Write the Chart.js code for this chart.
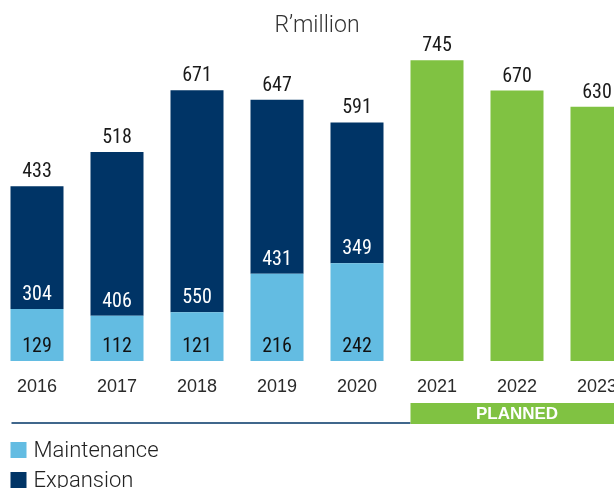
<!DOCTYPE html>
<html>
<head>
<meta charset="utf-8">
<script src="https://cdn.jsdelivr.net/npm/chart.js@4.4.0/dist/chart.umd.min.js"></script>
<style>
  html, body { margin: 0; padding: 0; overflow: hidden; background: #fff; width: 614px; height: 488px; }
  #wrap { position: absolute; left: -3px; top: 0; width: 640px; height: 488px; }
</style>
</head>
<body>
<div id="wrap"><canvas id="chart"></canvas></div>
<script>
const years = ['2016', '2017', '2018', '2019', '2020', '2021', '2022', '2023'];
const maintenance = [129, 112, 121, 216, 242, null, null, null];
const expansion = [304, 406, 550, 431, 349, null, null, null];
const planned = [null, null, null, null, null, 745, 670, 630];
const totals = [433, 518, 671, 647, 591, 745, 670, 630];

const NAVY = '#003466';
const LIGHT = '#63bce2';
const GREEN = '#80c242';
const numFont = '20px "Liberation Sans Narrow", "Arial Narrow", "Roboto Condensed", sans-serif';

const overlay = {
  id: 'overlay',
  afterDraw(chart) {
    const ctx = chart.ctx;
    const area = chart.chartArea;
    const x = chart.scales.x;
    const mMeta = chart.getDatasetMeta(0);
    const eMeta = chart.getDatasetMeta(1);
    const pMeta = chart.getDatasetMeta(2);
    ctx.save();

    // title
    ctx.fillStyle = '#333';
    ctx.font = '300 23px Roboto, "Liberation Sans", sans-serif';
    ctx.textAlign = 'center';
    ctx.textBaseline = 'alphabetic';
    ctx.fillText('R\u2019million', (area.left + area.right) / 2, 32);

    // value labels
    ctx.font = numFont;
    ctx.textBaseline = 'middle';
    years.forEach((y, i) => {
      const top = i < 5 ? eMeta.data[i] : pMeta.data[i];
      ctx.fillStyle = '#1a1a1a';
      ctx.fillText(String(totals[i]), top.x, top.y - 14);
      if (i < 5) {
        const m = mMeta.data[i];
        ctx.fillStyle = '#111';
        ctx.fillText(String(maintenance[i]), m.x, m.base - 14);
        ctx.fillStyle = '#fff';
        ctx.fillText(String(expansion[i]), m.x, m.y - 14);
      }
    });

    // category labels
    ctx.fillStyle = '#2a2a2a';
    ctx.font = '18px "Liberation Sans", Arial, sans-serif';
    ctx.textBaseline = 'alphabetic';
    years.forEach((y, i) => {
      ctx.fillText(y, x.getPixelForValue(i), 392);
    });

    // rule and planned banner
    const first = mMeta.data[0];
    const p0 = pMeta.data[5];
    const left0 = first.x - first.width / 2;
    const leftP = p0.x - p0.width / 2;
    ctx.strokeStyle = NAVY;
    ctx.lineWidth = 1.5;
    ctx.beginPath();
    ctx.moveTo(left0 + 1, 423);
    ctx.lineTo(leftP, 423);
    ctx.stroke();
    ctx.fillStyle = GREEN;
    ctx.fillRect(leftP, 403, chart.width - leftP, 21);
    ctx.fillStyle = '#fff';
    ctx.font = 'bold 17px "Liberation Sans", Arial, sans-serif';
    ctx.textBaseline = 'middle';
    ctx.fillText('PLANNED', p0.x + 80, 414.5);

    // legend
    ctx.textAlign = 'left';
    ctx.font = '300 22px Roboto, "Liberation Sans", sans-serif';
    ctx.textBaseline = 'alphabetic';
    ctx.fillStyle = LIGHT;
    ctx.fillRect(left0, 442, 16, 16);
    ctx.fillStyle = '#222';
    ctx.fillText('Maintenance', left0 + 23, 457);
    ctx.fillStyle = NAVY;
    ctx.fillRect(left0, 472, 16, 16);
    ctx.fillStyle = '#222';
    ctx.fillText('Expansion', left0 + 23, 487);

    ctx.restore();
  }
};

new Chart(document.getElementById('chart'), {
  type: 'bar',
  data: {
    labels: years,
    datasets: [
      { label: 'Maintenance', data: maintenance, backgroundColor: LIGHT },
      { label: 'Expansion', data: expansion, backgroundColor: NAVY },
      { label: 'Planned', data: planned, backgroundColor: GREEN }
    ]
  },
  options: {
    responsive: true,
    maintainAspectRatio: false,
    animation: false,
    layout: { padding: { top: 30, bottom: 127, left: 0, right: 0 } },
    datasets: { bar: { barPercentage: 0.6625, categoryPercentage: 1, borderWidth: 0 } },
    scales: {
      x: { stacked: true, display: false },
      y: { stacked: true, display: false, min: 0, max: 820 }
    },
    plugins: { legend: { display: false }, tooltip: { enabled: false } }
  },
  plugins: [overlay]
});
</script>
</body>
</html>
